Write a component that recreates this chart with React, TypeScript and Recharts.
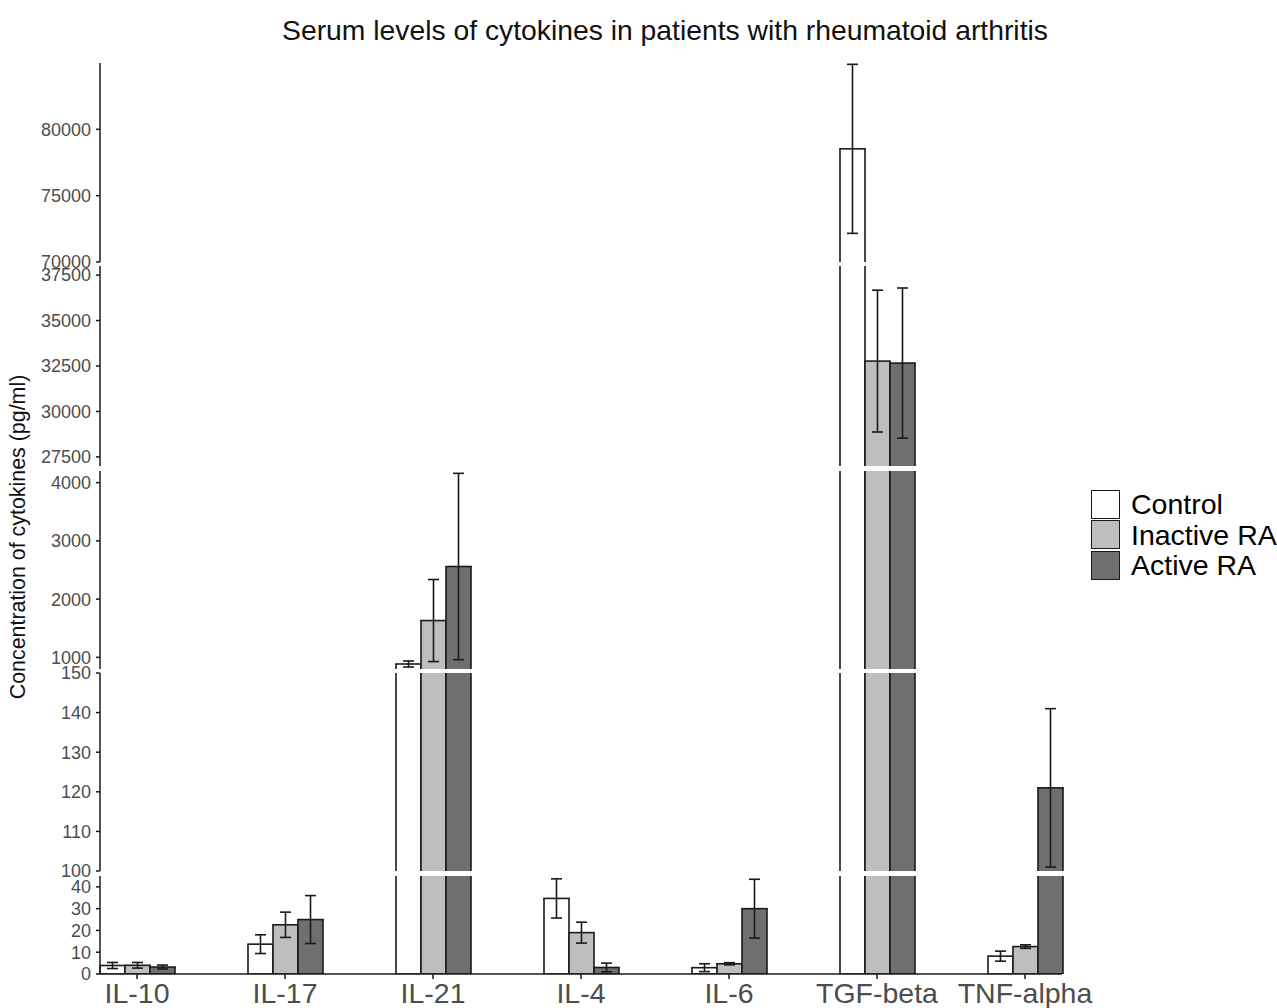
import React from 'react';
import { BarChart, Bar, XAxis, YAxis } from 'recharts';

// ---------- data ----------
const categories = ['IL-10', 'IL-17', 'IL-21', 'IL-4', 'IL-6', 'TGF-beta', 'TNF-alpha'];
const controlMean = [3.9, 13.7, 886, 34.7, 2.9, 78530, 8.2];
const controlErr = [1.4, 4.3, 52, 9.0, 1.8, 6370, 2.3];
const inactiveMean = [4.0, 22.6, 1632, 19.0, 4.7, 32770, 12.6];
const inactiveErr = [1.3, 5.8, 705, 4.8, 0.5, 3900, 0.8];
const activeMean = [3.2, 25.0, 2560, 3.0, 30.0, 32660, 121];
const activeErr = [0.9, 11.0, 1600, 2.0, 13.5, 4130, 20];

const seriesNames = ['Control', 'Inactive RA', 'Active RA'];
const seriesMeanKeys = ['controlMean', 'inactiveMean', 'activeMean'];
const seriesErrKeys = ['controlErr', 'inactiveErr', 'activeErr'];

// broken y-axis segments, bottom to top
const segDomains: [number, number][] = [
  [0, 45],
  [100, 150],
  [800, 4200],
  [27000, 38000],
  [70000, 85000],
];
const segTicks: number[][] = [
  [0, 10, 20, 30, 40],
  [100, 110, 120, 130, 140, 150],
  [1000, 2000, 3000, 4000],
  [27500, 30000, 32500, 35000, 37500],
  [70000, 75000, 80000],
];

const titleText = 'Serum levels of cytokines in patients with rheumatoid arthritis';
const yLabelText = 'Concentration of cytokines (pg/ml)';

const rows = categories.map((name, i) => ({
  name,
  controlMean: controlMean[i],
  controlErr: controlErr[i],
  inactiveMean: inactiveMean[i],
  inactiveErr: inactiveErr[i],
  activeMean: activeMean[i],
  activeErr: activeErr[i],
}));

// ---------- layout / style ----------
const FONT = '"Liberation Sans", Arial, Helvetica, sans-serif';
const seriesFill = ['#ffffff', '#bebebe', '#6f6f6f'];
const INK = '#1a1a1a';
const TICK_COLOR = '#4d4d4d';
const CHART_W = 1110;
const PLOT_LEFT = 100;
const PLOT_RIGHT_MARGIN = 48;
const V_MARGIN = 14;
const XAXIS_H = 40;
const segPlotTop = [876, 673, 470.5, 266, 63];
const segPlotH = [98, 198, 198, 200, 199];

function makeShape(seriesIdx: number, plotTop: number, plotH: number, lo: number, hi: number) {
  const meanKey = seriesMeanKeys[seriesIdx];
  const errKey = seriesErrKeys[seriesIdx];
  const fill = seriesFill[seriesIdx];
  return (props: any) => {
    const { x, y, width, height, payload } = props;
    if (x == null || y == null || !payload) return <g />;
    const top = Math.min(y, y + height);
    const bottom = Math.max(y, y + height);
    const clipTop = plotTop;
    const clipBottom = plotTop + plotH;
    const t = Math.max(top, clipTop);
    const b = Math.min(bottom, clipBottom);
    const ppu = plotH / (hi - lo);
    const parts: any[] = [];
    const sw = 1.6;
    if (b > t) {
      parts.push(<rect key="f" x={x} y={t} width={width} height={b - t} fill={fill} stroke="none" />);
      parts.push(<line key="l" x1={x} y1={t} x2={x} y2={b} stroke={INK} strokeWidth={sw} />);
      parts.push(<line key="r" x1={x + width} y1={t} x2={x + width} y2={b} stroke={INK} strokeWidth={sw} />);
      if (top >= clipTop - 0.01) {
        parts.push(<line key="t" x1={x - sw / 2} y1={top} x2={x + width + sw / 2} y2={top} stroke={INK} strokeWidth={sw} />);
      }
      if (bottom <= clipBottom + 0.01) {
        parts.push(<line key="b" x1={x - sw / 2} y1={bottom} x2={x + width + sw / 2} y2={bottom} stroke={INK} strokeWidth={sw} />);
      }
    }
    const meanVal = payload[meanKey];
    const e = payload[errKey] * ppu;
    const yMean = plotTop + (hi - meanVal) * ppu;
    const cx = x + width / 2;
    const eTop = yMean - e;
    const eBot = yMean + e;
    const et = Math.max(eTop, clipTop);
    const eb = Math.min(eBot, clipBottom);
    const capHalf = 5.5;
    if (eb > et) {
      parts.push(<line key="ev" x1={cx} y1={et} x2={cx} y2={eb} stroke={INK} strokeWidth={sw} />);
      if (eTop >= clipTop - 0.01 && eTop <= clipBottom)
        parts.push(<line key="ct" x1={cx - capHalf} y1={eTop} x2={cx + capHalf} y2={eTop} stroke={INK} strokeWidth={sw} />);
      if (eBot <= clipBottom + 0.01 && eBot >= clipTop)
        parts.push(<line key="cb" x1={cx - capHalf} y1={eBot} x2={cx + capHalf} y2={eBot} stroke={INK} strokeWidth={sw} />);
    }
    return <g>{parts}</g>;
  };
}

function Panel({ idx }: { idx: number }) {
  const [lo, hi] = segDomains[idx];
  const isBottom = idx === 0;
  const plotH = segPlotH[idx];
  const height = V_MARGIN + plotH + (isBottom ? XAXIS_H : V_MARGIN);
  const top = segPlotTop[idx] - V_MARGIN;
  return (
    <div style={{ position: 'absolute', left: 0, top, width: CHART_W, height }}>
      <BarChart
        width={CHART_W}
        height={height}
        data={rows}
        margin={{ top: V_MARGIN, right: PLOT_RIGHT_MARGIN, bottom: isBottom ? 0 : V_MARGIN, left: 0 }}
        barCategoryGap="25%"
        barGap={0}
      >
        <XAxis
          dataKey="name"
          hide={!isBottom}
          height={XAXIS_H}
          padding={{ left: -37, right: -37 }}
          tick={{ fontSize: 28.5, fill: TICK_COLOR, fontFamily: FONT }}
          tickSize={5}
          tickMargin={4}
          interval={0}
          axisLine={{ stroke: INK, strokeWidth: 1.5 }}
          tickLine={{ stroke: INK, strokeWidth: 1.5 }}
        />
        <YAxis
          type="number"
          domain={[lo, hi]}
          ticks={segTicks[idx]}
          allowDataOverflow
          interval={0}
          width={PLOT_LEFT}
          tick={{ fontSize: 18, fill: TICK_COLOR, fontFamily: FONT }}
          tickSize={4}
          tickMargin={5}
          axisLine={{ stroke: INK, strokeWidth: 1.5 }}
          tickLine={{ stroke: INK, strokeWidth: 1.5 }}
        />
        {seriesNames.map((s, si) => (
          <Bar
            key={s}
            name={s}
            dataKey={(d: any) => [0, d[seriesMeanKeys[si]]]}
            isAnimationActive={false}
            shape={makeShape(si, V_MARGIN, plotH, lo, hi)}
          />
        ))}
      </BarChart>
    </div>
  );
}

export default function App() {
  return (
    <div
      style={{
        position: 'absolute',
        left: 0,
        top: 0,
        width: 1277,
        height: 1008,
        overflow: 'hidden',
        background: '#ffffff',
        fontFamily: FONT,
      }}
    >
      <div
        style={{
          position: 'absolute',
          left: 665,
          top: 30,
          transform: 'translate(-50%, -50%)',
          whiteSpace: 'nowrap',
          fontSize: 28.3,
          color: '#111',
          lineHeight: 1,
        }}
      >
        {titleText}
      </div>
      <div
        style={{
          position: 'absolute',
          left: 19,
          top: 537,
          transform: 'translate(-50%, -50%) rotate(-90deg)',
          whiteSpace: 'nowrap',
          fontSize: 21.4,
          color: '#111',
          lineHeight: 1,
        }}
      >
        {yLabelText}
      </div>
      {segDomains.map((_, i) => (
        <Panel key={i} idx={i} />
      ))}
      <div style={{ position: 'absolute', left: 1091, top: 489 }}>
        {seriesNames.map((s, i) => (
          <div key={s} style={{ display: 'flex', alignItems: 'center', height: 30.5 }}>
            <div
              style={{
                width: 29,
                height: 29,
                background: seriesFill[i],
                border: `1.5px solid ${INK}`,
                boxSizing: 'border-box',
              }}
            />
            <span style={{ marginLeft: 11, fontSize: 28.5, color: '#000', lineHeight: 1, whiteSpace: 'nowrap' }}>{s}</span>
          </div>
        ))}
      </div>
    </div>
  );
}
